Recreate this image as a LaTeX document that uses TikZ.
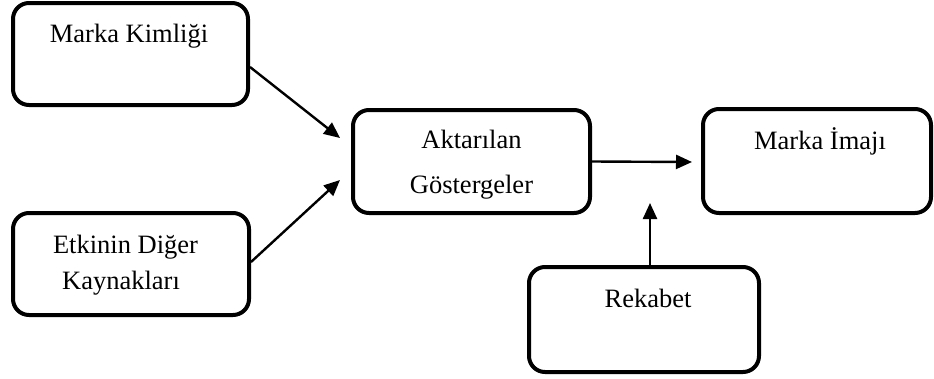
\documentclass[tikz,border=0pt]{standalone}
\usepackage{fontspec}
\setmainfont{Liberation Serif}
\usetikzlibrary{arrows.meta,calc}
\begin{document}
\begin{tikzpicture}[x=1pt,y=-1pt,
  box/.style={draw,line width=4pt,rounded corners=16pt,inner sep=0pt},
  lbl/.style={anchor=base,inner sep=0pt,font=\fontsize{26.5}{30}\selectfont},
  conn/.style={line width=2.4pt,-{Triangle[length=16pt,width=14pt]}}]
\useasboundingbox (0,0) rectangle (934,378);
% boxes
\node[box,minimum width=235pt,minimum height=102pt] (b1) at (130.5,54) {};
\node[box,minimum width=236pt,minimum height=102pt] (b2) at (131,264) {};
\node[box,minimum width=237pt,minimum height=103pt] (b3) at (471.5,161.5) {};
\node[box,minimum width=228pt,minimum height=104pt] (b4) at (817,161) {};
\node[box,minimum width=230pt,minimum height=105pt] (b5) at (644,319.5) {};
% labels
\node[lbl] (t1) at (129,42) {Marka Kimliği};
\node[lbl] (t2a) at (125.5,253) {Etkinin Diğer};
\node[lbl] (t2b) at (121,289) {Kaynakları};
\node[lbl] (t3a) at (471.5,148) {Aktarılan};
\node[lbl] (t3b) at (471.5,193) {Göstergeler};
\node[lbl] (t4) at (820,149) {Marka İmajı};
\node[lbl] (t5) at (648,307) {Rekabet};
% arrow ends
\coordinate (e1) at (340,138);
\coordinate (e2) at (340,180);
\coordinate (e3) at (692,162);
\coordinate (e4) at (650,203);
% connectors
\draw[conn] ([yshift=-13pt]b1.east) -- (e1);
\draw[conn] ([yshift=2pt]b2.east) -- (e2);
\draw[conn] (b3.east) -- (e3);
\draw[conn] ([xshift=6pt]b5.north) -- (e4);
\end{tikzpicture}
\end{document}
